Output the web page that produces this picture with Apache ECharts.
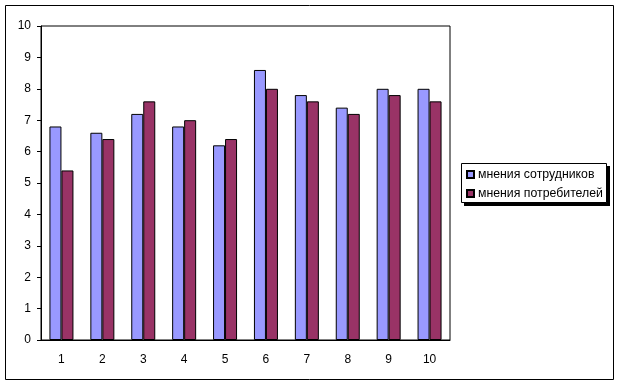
<!DOCTYPE html>
<html><head><meta charset="utf-8">
<script src="https://cdn.jsdelivr.net/npm/echarts@6/dist/echarts.min.js"></script>
<style>html,body{margin:0;padding:0;background:#fff}#c{width:619px;height:386px}</style>
</head><body><div id="c"></div>
<script>
var categories = ['1','2','3','4','5','6','7','8','9','10'];
var employees = [6.8, 6.6, 7.2, 6.8, 6.2, 8.6, 7.8, 7.4, 8.0, 8.0];
var consumers = [5.4, 6.4, 7.6, 7.0, 6.4, 8.0, 7.6, 7.2, 7.8, 7.6];
var seriesNames = ['мнения сотрудников', 'мнения потребителей'];

var FONT = 'Liberation Sans, Arial, sans-serif';
var chart = echarts.init(document.getElementById('c'), null, {renderer: 'canvas'});
chart.setOption({
  animation: false,
  backgroundColor: '#fff',
  graphic: [
    {type: 'rect', shape: {x: 5.5, y: 5.5, width: 608, height: 374}, style: {fill: null, stroke: '#000', lineWidth: 1}, z: -1},
    {type: 'rect', shape: {x: 464, y: 166, width: 146, height: 40}, style: {fill: '#000'}, z: 0},
    {type: 'rect', shape: {x: 461.5, y: 163.5, width: 145, height: 39}, style: {fill: '#fff', stroke: '#000', lineWidth: 1}, z: 1}
  ],
  grid: {left: 41, top: 26, width: 409, height: 314, show: true, borderColor: '#000', borderWidth: 1, backgroundColor: '#fff'},
  legend: {
    orient: 'vertical', left: 466, top: 167.5,
    padding: 0,
    itemGap: 5, itemWidth: 7, itemHeight: 7, icon: 'rect',
    textStyle: {fontFamily: FONT, fontSize: 12.3, lineHeight: 14, color: '#000', padding: [0, 0, 0, -1]},
    z: 5
  },
  xAxis: {
    type: 'category', data: categories,
    axisLine: {lineStyle: {color: '#000', width: 1}},
    axisTick: {show: false},
    axisLabel: {color: '#000', fontFamily: FONT, fontSize: 12, margin: 14}
  },
  yAxis: {
    type: 'value', min: 0, max: 10, interval: 1,
    axisLine: {show: true, lineStyle: {color: '#000', width: 1}},
    axisTick: {show: true, inside: false, length: 4, lineStyle: {color: '#000'}},
    splitLine: {show: false},
    axisLabel: {color: '#000', fontFamily: FONT, fontSize: 12, margin: 10}
  },
  series: [
    {name: seriesNames[0], type: 'bar', data: employees, barWidth: 12, barGap: '0%',
     itemStyle: {color: '#9999FF', borderColor: '#000', borderWidth: 1}},
    {name: seriesNames[1], type: 'bar', data: consumers, barWidth: 12, barGap: '0%',
     itemStyle: {color: '#993366', borderColor: '#000', borderWidth: 1}}
  ]
});
</script></body></html>
